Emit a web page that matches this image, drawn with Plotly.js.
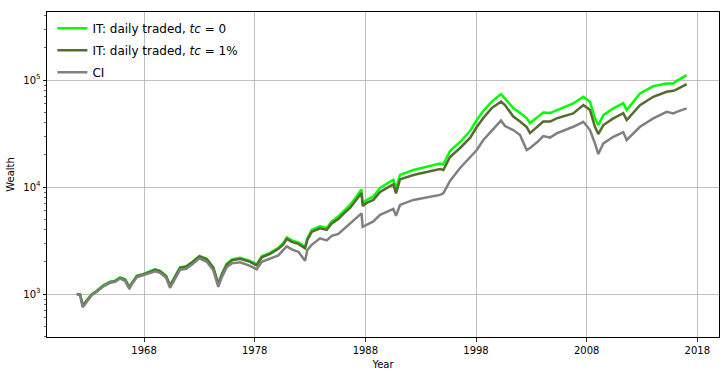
<!DOCTYPE html>
<html>
<head>
<meta charset="utf-8">
<script src="https://cdn.plot.ly/plotly-3.0.1.min.js"></script>
<style>html,body{margin:0;padding:0;background:#fff;}#chart{width:727px;height:375px;}</style>
</head>
<body>
<div id="chart"></div>
<script>
const years = [1961.92, 1962.22, 1962.46, 1962.76, 1963.27, 1963.73, 1964.32, 1964.93, 1965.38, 1965.83,
  1966.28, 1966.67, 1966.89, 1967.34, 1967.94, 1968.30, 1969.00, 1969.45, 1969.99, 1970.35,
  1970.65, 1971.25, 1971.80, 1972.31, 1973.00, 1973.67, 1974.26, 1974.71, 1975.02, 1975.47,
  1975.95, 1976.68, 1977.58, 1978.18, 1978.64, 1979.39, 1980.14, 1980.59, 1980.90, 1981.35,
  1981.95, 1982.55, 1982.76, 1983.15, 1983.90, 1984.51, 1984.96, 1985.56, 1986.16, 1986.62,
  1987.07, 1987.65, 1987.76, 1988.12, 1988.72, 1989.33, 1990.05, 1990.53, 1990.77, 1991.13,
  1992.34, 1993.84, 1994.75, 1995.05, 1995.65, 1996.56, 1997.46, 1998.07, 1998.66, 1999.42,
  2000.26, 2000.62, 2001.37, 2001.98, 2002.58, 2002.88, 2003.49, 2004.08, 2004.69, 2005.29,
  2006.79, 2007.70, 2008.30, 2008.75, 2009.05, 2009.51, 2010.41, 2011.31, 2011.62, 2012.82,
  2014.02, 2015.23, 2015.83, 2016.14, 2017.04];

const itNoCost = [1000, 990, 786, 857, 996, 1074, 1208, 1303, 1331, 1435,
  1375, 1170, 1275, 1482, 1547, 1598, 1704, 1650, 1482, 1208,
  1389, 1779, 1818, 1981, 2278, 2135, 1779, 1248, 1530, 1918,
  2112, 2182, 2046, 1897, 2253, 2429, 2705, 3012, 3389, 3178,
  3044, 2764, 3317, 3983, 4294, 4158, 4779, 5322, 6120, 6814,
  7838, 9508, 7114, 7589, 8178, 9820, 10944, 11674, 9621, 12998,
  14470, 15773, 16641, 16289, 21774, 26421, 33459, 42386, 51431, 63000,
  74000, 67200, 54800, 49200, 44190, 39690, 44190, 49750, 49200, 52480,
  60600, 69860, 62740, 43910, 38020, 47130, 54440, 60990, 52480, 75140,
  87900, 93160, 93160, 98500, 111300];

const itCost = [1000, 990, 778, 848, 985, 1062, 1195, 1289, 1317, 1419,
  1360, 1157, 1262, 1466, 1530, 1581, 1686, 1632, 1466, 1195,
  1375, 1760, 1798, 1960, 2253, 2112, 1760, 1235, 1514, 1877,
  2068, 2135, 2002, 1857, 2206, 2378, 2648, 2916, 3282, 3077,
  2948, 2677, 3212, 3815, 4114, 3983, 4580, 5045, 5800, 6390,
  7346, 8820, 6670, 7114, 7589, 9012, 9936, 10598, 8735, 11801,
  12998, 14164, 14787, 14470, 19142, 23223, 28790, 36466, 44245, 54800,
  63000, 58440, 45630, 41000, 36420, 32010, 36420, 41000, 41000, 43910,
  48900, 58440, 52480, 36660, 31330, 38020, 43910, 49200, 42330, 58440,
  69860, 77780, 79450, 81890, 91770];

const ci = [1000, 985, 753, 830, 975, 1051, 1182, 1275, 1303, 1398,
  1331, 1121, 1235, 1435, 1498, 1547, 1632, 1581, 1419, 1145,
  1317, 1686, 1722, 1877, 2158, 2002, 1668, 1170, 1435, 1779,
  1939, 1981, 1837, 1704, 2002, 2135, 2302, 2592, 2794, 2620,
  2482, 2046, 2592, 2885, 3317, 3178, 3501, 3654, 4158, 4531,
  5045, 5677, 4248, 4436, 4779, 5497, 5993, 6254, 5381, 6814,
  7589, 8187, 8455, 8735, 11427, 15109, 19142, 22245, 27574, 33420,
  41880, 37210, 34150, 30670, 22220, 23190, 26100, 30010, 29060, 31810,
  36660, 40820, 34150, 25660, 20390, 25660, 29560, 32710, 27574, 36660,
  43910, 50600, 48900, 50600, 54440];

const seriesNames = ['IT: daily traded, <i>tc</i> = 0', 'IT: daily traded, <i>tc</i> = 1%', 'CI'];
const xTickVals = [1968, 1978, 1988, 1998, 2008, 2018];
const xTickText = ['1968', '1978', '1988', '1998', '2008', '2018'];
const yTickVals = [1000, 10000, 100000];
const yTickText = ['10<sup>3</sup>', '10<sup>4</sup>', '10<sup>5</sup>'];

const font = 'DejaVu Sans, sans-serif';
const traces = [
  {x: years, y: itNoCost, name: seriesNames[0], legendgroup: 'g1', mode: 'lines', line: {color: '#00ff00', width: 2.5}},
  {x: years, y: itCost, name: seriesNames[1], legendgroup: 'g2', mode: 'lines', line: {color: '#556b2f', width: 2.5}},
  {x: years, y: ci, name: seriesNames[2], legendgroup: 'g3', mode: 'lines', line: {color: '#808080', width: 2.5}}
];

const axisCommon = {
  showline: true, linecolor: '#000', linewidth: 1, mirror: true,
  ticks: 'outside', ticklen: 3.5, tickwidth: 0.8, tickcolor: '#000',
  showgrid: true, gridcolor: '#b0b0b0', gridwidth: 0.8,
  zeroline: false, tickfont: {family: font, size: 10, color: '#000'}
};

const layout = {
  width: 727, height: 375,
  margin: {l: 47, r: 8, t: 12, b: 38},
  paper_bgcolor: '#fff', plot_bgcolor: '#fff',
  showlegend: true,
  legend: {x: 0.008, y: 0.995, xanchor: 'left', yanchor: 'top', bgcolor: 'rgba(255,255,255,0)',
    font: {family: font, size: 12, color: '#000'}, borderwidth: 0, tracegroupgap: 3, itemwidth: 30},
  xaxis: Object.assign({}, axisCommon, {
    range: [1959.23, 2019.96], tickmode: 'array', tickvals: xTickVals, ticktext: xTickText,
    title: {text: 'Year', font: {family: font, size: 10, color: '#000'}, standoff: 6}
  }),
  yaxis: Object.assign({}, axisCommon, {
    type: 'log', range: [2.599, 5.637], tickmode: 'array', tickvals: yTickVals, ticktext: yTickText,
    minor: {ticks: 'outside', ticklen: 2, tickwidth: 0.6, tickcolor: '#000', showgrid: false, dtick: 'D1'},
    title: {text: 'Wealth', font: {family: font, size: 10, color: '#000'}, standoff: 6}
  })
};

Plotly.newPlot('chart', traces, layout, {staticPlot: true, displayModeBar: false});
</script>
</body>
</html>
